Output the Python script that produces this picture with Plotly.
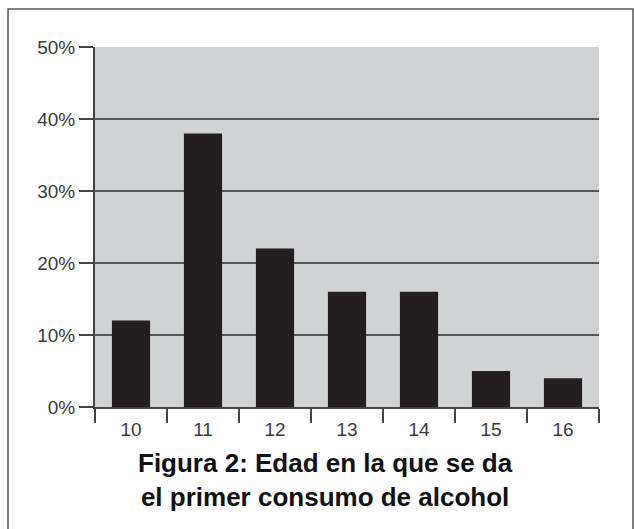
import plotly.graph_objects as go

edades = ["10", "11", "12", "13", "14", "15", "16"]
porcentajes = [12, 38, 22, 16, 16, 5, 4]
y_ticks = [0, 10, 20, 30, 40, 50]
y_labels = ["0%", "10%", "20%", "30%", "40%", "50%"]
grid_vals = [10, 20, 30, 40]
caption = "Figura 2: Edad en la que se da<br>el primer consumo de alcohol"

fig = go.Figure()
fig.add_trace(go.Bar(x=edades, y=porcentajes, marker=dict(color="#231f20", line=dict(width=0)),
                     hoverinfo="skip"))

for g in grid_vals:
    fig.add_shape(type="line", xref="x domain", yref="y", x0=0, x1=1, y0=g, y1=g,
                  line=dict(color="#2e2e2e", width=1.6), layer="below")

# outer frame
fig.add_shape(type="rect", xref="paper", yref="paper",
              x0=-0.1726, x1=1.0675, y0=-0.36, y1=1.1056,
              line=dict(color="#555555", width=1.5), fillcolor="rgba(0,0,0,0)")

fig.add_annotation(text="<b>" + caption + "</b>", xref="paper", yref="paper",
                   x=0.458, y=-0.203, xanchor="center", yanchor="middle", showarrow=False,
                   font=dict(family="Liberation Sans, Arial", size=26, color="#111111"),
                   align="center")

fig.update_layout(
    width=634, height=529,
    margin=dict(l=95, r=35, t=47, b=122),
    paper_bgcolor="white", plot_bgcolor="#d1d2d4",
    bargap=0.47, showlegend=False,
    font=dict(family="Liberation Sans, Arial", size=19, color="#3a3a3a"),
)
fig.update_xaxes(type="category", showline=True, linecolor="#444444", linewidth=2,
                 ticks="outside", tickson="boundaries", ticklen=14, tickwidth=2, tickcolor="#444444",
                 ticklabelstandoff=4, showgrid=False, fixedrange=True)
fig.update_yaxes(range=[0, 50], tickvals=y_ticks, ticktext=y_labels, showline=True,
                 linecolor="#444444", linewidth=2, ticks="outside", ticklen=14, tickwidth=2,
                 tickcolor="#444444", showgrid=False, zeroline=False, fixedrange=True)

fig.write_html("out.html", config={"displayModeBar": False},
               post_script="document.body.style.margin='0';document.body.style.padding='0';")
